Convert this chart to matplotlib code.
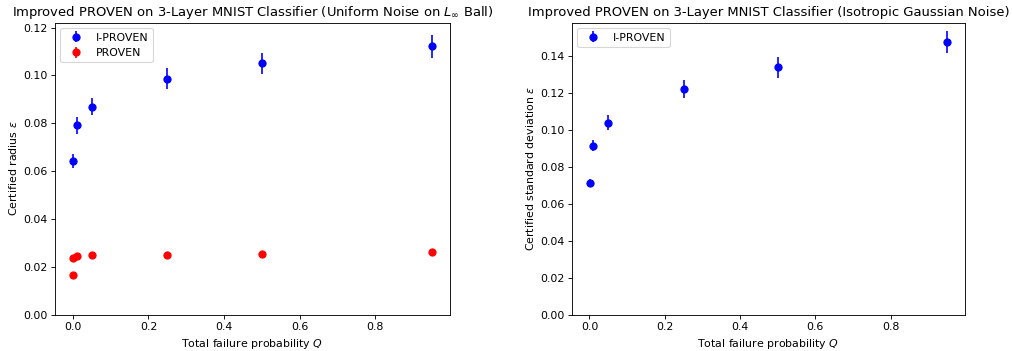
import numpy as np
import matplotlib
matplotlib.use('Agg')
import matplotlib.pyplot as plt

# left panel: uniform noise on L_inf ball
q_iproven = [0.001, 0.01, 0.05, 0.25, 0.5, 0.95]
r_iproven = [0.0643, 0.0792, 0.0870, 0.0987, 0.1050, 0.1122]
r_iproven_err = [0.0030, 0.0035, 0.0035, 0.0045, 0.0045, 0.0048]

q_proven = [0.0001, 0.001, 0.01, 0.05, 0.25, 0.5, 0.95]
r_proven = [0.0165, 0.0235, 0.0245, 0.0248, 0.0251, 0.0255, 0.0261]
r_proven_err = [0.0003, 0.0003, 0.0003, 0.0003, 0.0003, 0.0003, 0.0003]

# right panel: isotropic gaussian noise
q_gauss = [0.001, 0.01, 0.05, 0.25, 0.5, 0.95]
s_gauss = [0.0712, 0.0915, 0.1038, 0.1222, 0.1338, 0.1475]
s_gauss_err = [0.0022, 0.0032, 0.0040, 0.0050, 0.0058, 0.0062]

dpi = 79
fig = plt.figure(figsize=(1012 / dpi, 351 / dpi), dpi=dpi)
ax1 = fig.add_axes([0.0543, 0.1034, 0.3903, 0.832])
ax2 = fig.add_axes([0.5652, 0.1034, 0.3882, 0.832])

ax1.errorbar(q_iproven, r_iproven, yerr=r_iproven_err, fmt='o', color='blue',
             ms=6.5, elinewidth=1.5, label='I-PROVEN')
ax1.errorbar(q_proven, r_proven, yerr=r_proven_err, fmt='o', color='red',
             ms=6.5, elinewidth=1.5, label='PROVEN')
ax1.set_ylim(bottom=0)
ax1.set_xlabel('Total failure probability $Q$')
ax1.set_ylabel(r'Certified radius $\varepsilon$')
ax1.set_title(r'Improved PROVEN on 3-Layer MNIST Classifier (Uniform Noise on $L_\infty$ Ball)')
ax1.legend(loc='upper left')

ax2.errorbar(q_gauss, s_gauss, yerr=s_gauss_err, fmt='o', color='blue',
             ms=6.5, elinewidth=1.5, label='I-PROVEN')
ax2.set_ylim(bottom=0)
ax2.set_xlabel('Total failure probability $Q$')
ax2.set_ylabel(r'Certified standard deviation $\varepsilon$')
ax2.set_title('Improved PROVEN on 3-Layer MNIST Classifier (Isotropic Gaussian Noise)')
ax2.legend(loc='upper left')

fig.savefig('out.png', dpi=dpi)
